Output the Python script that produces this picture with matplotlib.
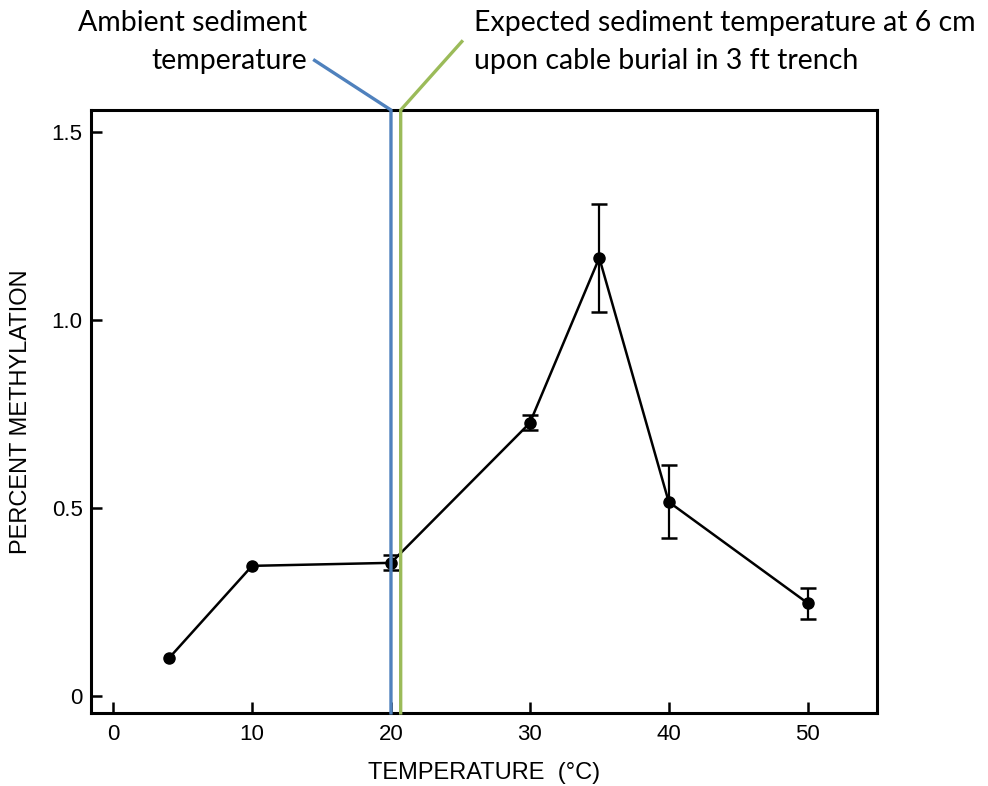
import matplotlib.pyplot as plt

plt.rcParams['font.family'] = ['Liberation Sans', 'DejaVu Sans']

# data
temps = [4, 10, 20, 30, 35, 40, 50]
methylation = [0.10, 0.346, 0.354, 0.726, 1.165, 0.516, 0.247]
err = [0, 0, 0.02, 0.02, 0.143, 0.097, 0.041]

ambient_temp = 20
expected_temp = 20.7
x_ticks = [0, 10, 20, 30, 40, 50]
y_ticks = [0, 0.5, 1.0, 1.5]
y_tick_labels = ['0', '0.5', '1.0', '1.5']

blue = '#4F81BD'
green = '#9BBB59'

fig = plt.figure(figsize=(9.88, 7.86), dpi=100)
ax = fig.add_axes([0.0921, 0.093, 0.7956, 0.767])

ax.set_xlim(-1.6, 55.0)
ax.set_ylim(-0.045, 1.558)

# annotation lines (vertical inside, diagonal leader outside the box)
ax.plot([14.5, ambient_temp, ambient_temp], [1.69, 1.558, -0.045],
        color=blue, lw=2.4, clip_on=False, zorder=4)
ax.plot([25.1, expected_temp, expected_temp], [1.74, 1.558, -0.045],
        color=green, lw=2.4, clip_on=False, zorder=4)

ax.plot(temps, methylation, color='black', lw=1.8, marker='o',
        markersize=8, zorder=3)
# only the points that actually have error bars
ex = [t for t, e in zip(temps, err) if e > 0]
ey = [m for m, e in zip(methylation, err) if e > 0]
ee = [e for e in err if e > 0]
ax.errorbar(ex, ey, yerr=ee, fmt='none', ecolor='black', capsize=6,
            capthick=1.8, elinewidth=1.6, zorder=3)

for s in ax.spines.values():
    s.set_linewidth(2.2)

ax.set_xticks(x_ticks)
ax.set_yticks(y_ticks)
ax.set_yticklabels(y_tick_labels)
ax.tick_params(direction='in', length=8, width=1.8, labelsize=16, pad=6)
ax.tick_params(axis='x', pad=8)

ax.set_xlabel('TEMPERATURE  (°C)', fontsize=17, labelpad=12)
ax.set_ylabel('PERCENT METHYLATION', fontsize=17, labelpad=14)

fig.text(307 / 988, 1 - 10 / 786, 'Ambient sediment\ntemperature',
         ha='right', va='top', fontsize=20.5, family='Lato',
         linespacing=1.55)
fig.text(474 / 988, 1 - 10 / 786,
         'Expected sediment temperature at 6 cm\nupon cable burial in 3 ft trench',
         ha='left', va='top', fontsize=20.5, family='Lato',
         linespacing=1.55)

fig.savefig('out.png', dpi=100)
